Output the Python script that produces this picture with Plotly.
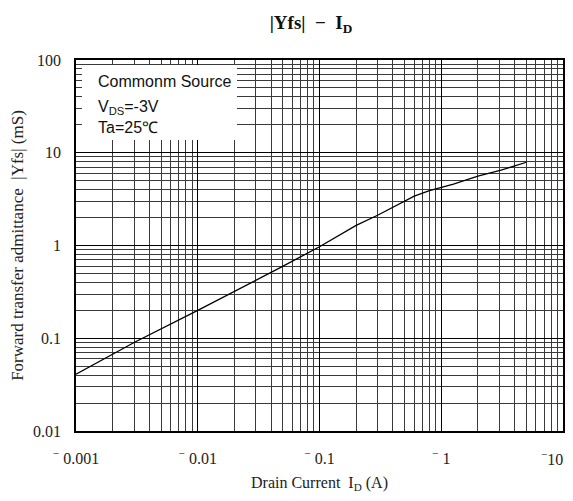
import plotly.graph_objects as go

# data
id_a = [0.001, 0.003, 0.01, 0.03, 0.048, 0.1, 0.2, 0.3, 0.4, 0.5, 0.6, 0.8, 1.26, 2.0, 3.1, 5.0]
yfs_ms = [0.041, 0.09, 0.2, 0.42, 0.58, 0.97, 1.65, 2.12, 2.6, 3.02, 3.4, 3.9, 4.6, 5.6, 6.5, 7.9]

x_ticks = [0.001, 0.01, 0.1, 1]
x_ticktext = ["<sup>−</sup> 0.001", "<sup>−</sup> 0.01", "<sup>−</sup> 0.1", "<sup>−</sup> 1"]
x_last_tick = 10
x_last_text = "<sup>−</sup>10"
y_ticks = [0.01, 0.1, 1, 10, 100]
y_ticktext = ["0.01", "0.1", "1", "10", "100"]

def minors(lo_exp, hi_exp):
    vals = []
    for e in range(lo_exp, hi_exp):
        for m in range(2, 10):
            vals.append(m * 10 ** e)
    return vals

# page body has an 8px margin; compensate and avoid vertical overflow
OFF = 8
W, H = 573 - OFF, 501 - 2 * OFF
L, R, T, B = 76 - OFF, 563 - OFF, 60 - OFF, 431 - OFF

fig = go.Figure()
fig.add_trace(go.Scatter(x=id_a, y=yfs_ms, mode="lines",
                         line=dict(color="black", width=1.3),
                         showlegend=False, hoverinfo="skip"))

serif = "Liberation Serif, DejaVu Serif, serif"
sans = "Liberation Sans, Arial, sans-serif"
tickfont = dict(family=serif, size=16, color="#222")

axis_common = dict(type="log", showline=True, linecolor="black", linewidth=1.5, mirror=True,
                   showgrid=True, gridcolor="black", gridwidth=1, ticks="", zeroline=False,
                   automargin=False, ticklabeloverflow="allow", tickfont=tickfont)

fig.update_xaxes(range=[-3, 1], tickvals=x_ticks, ticktext=x_ticktext,
                 minor=dict(tickvals=minors(-3, 1), showgrid=True, gridcolor="#3a3a3a", gridwidth=1, ticks=""),
                 title=dict(text="Drain Current  I<sub>D</sub> (A)", font=dict(family=serif, size=16, color="#222"), standoff=12),
                 ticklabelstandoff=12, **axis_common)
fig.update_yaxes(range=[-2, 2], tickvals=y_ticks, ticktext=y_ticktext,
                 minor=dict(tickvals=minors(-2, 2), showgrid=True, gridcolor="#3a3a3a", gridwidth=1, ticks=""),
                 title=dict(text="Forward transfer admittance  |Yfs| (mS)", font=dict(family=serif, size=17, color="#222"), standoff=14),
                 ticklabelstandoff=10, **axis_common)

pw, ph = R - L, B - T
def px(xp):
    return (xp - OFF - L) / pw
def py(yp):
    return (B - (yp - OFF)) / ph

# last x tick label placed so it stays inside the visible page
fig.add_annotation(text=x_last_text, x=1, xref="x", y=py(458), yref="paper",
                   xanchor="right", yanchor="middle", xshift=2, showarrow=False, font=tickfont)

fig.add_shape(type="rect", xref="paper", yref="paper",
              x0=px(82), x1=px(237), y0=py(140), y1=py(65),
              fillcolor="white", line=dict(width=0), layer="above")

for txt, yy in [("Commonm Source", 81), ("V<sub>DS</sub>=-3V", 107), ("Ta=25℃", 128)]:
    fig.add_annotation(text=txt, xref="paper", yref="paper", x=px(96), y=py(yy),
                       xanchor="left", yanchor="middle", showarrow=False,
                       font=dict(family=sans, size=16, color="#111"))

fig.update_layout(
    width=W, height=H, margin=dict(l=L, r=W - R, t=T, b=H - B),
    paper_bgcolor="white", plot_bgcolor="white",
    title=dict(text="<b>|Yfs|  −  I<sub>D</sub></b>", x=(311 - OFF) / W, xanchor="center",
               y=1 - (22 - OFF) / H, yanchor="middle", font=dict(family=serif, size=19, color="#111")),
)

fig.write_html("out.html")
